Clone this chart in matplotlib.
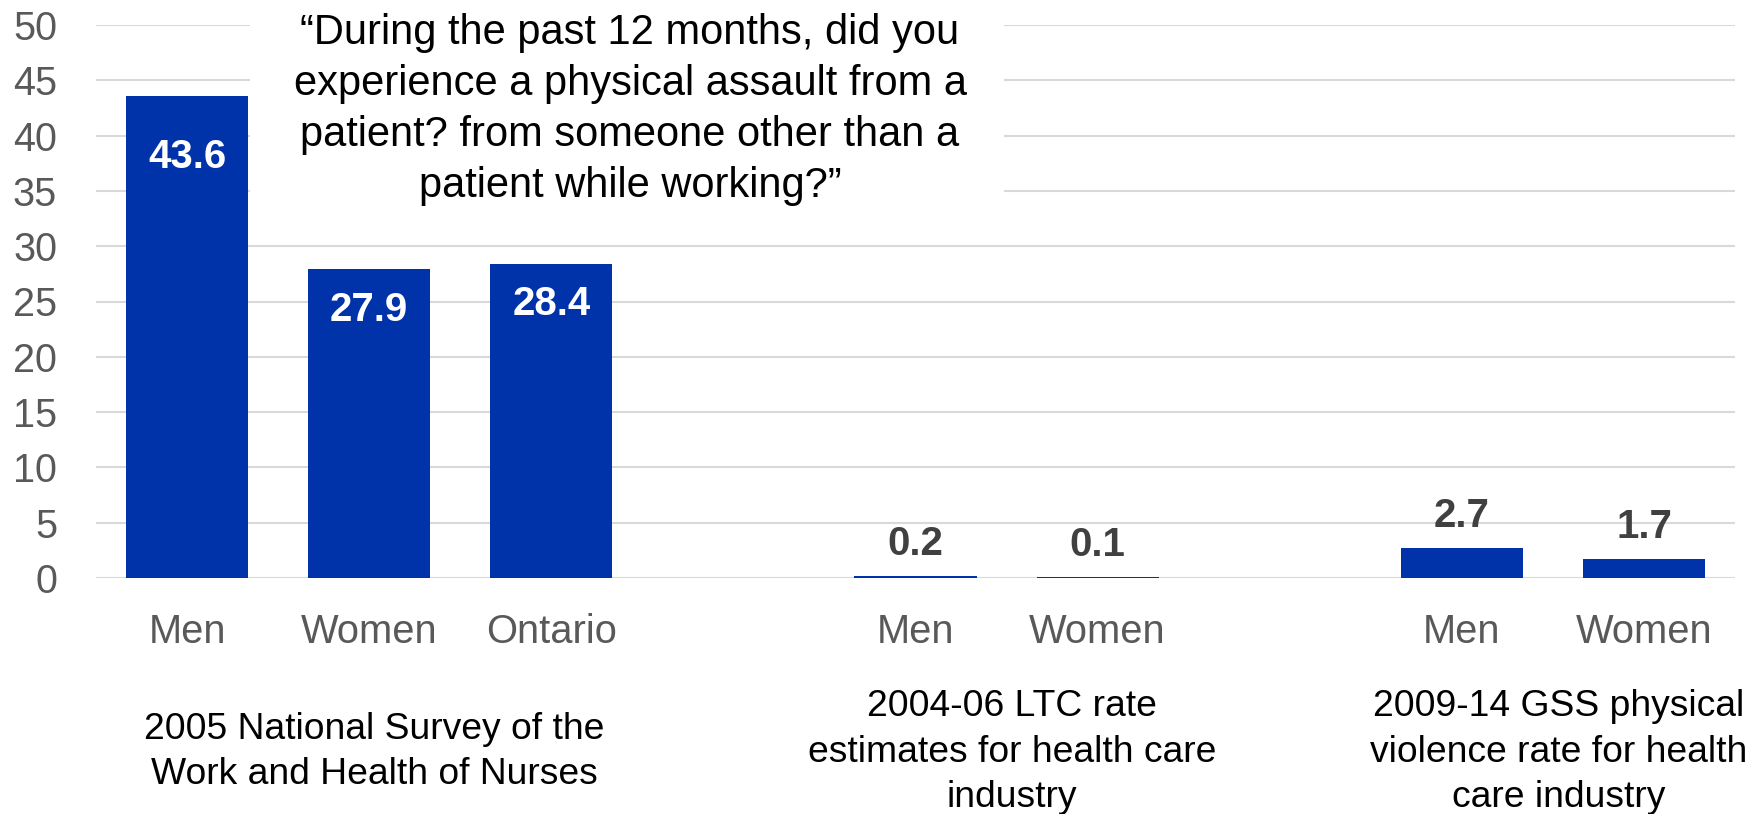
import matplotlib
matplotlib.use("Agg")
import matplotlib.pyplot as plt
import matplotlib.transforms as mtransforms
from matplotlib.patches import Rectangle

# ---------------- data ----------------
group_titles = [
    "2005 National Survey of the\nWork and Health of Nurses",
    "2004-06 LTC rate\nestimates for health care\nindustry",
    "2009-14 GSS physical\nviolence rate for health\ncare industry",
]
group_categories = [
    ["Men", "Women", "Ontario"],
    ["Men", "Women"],
    ["Men", "Women"],
]
group_values = [
    [43.6, 27.9, 28.4],
    [0.2, 0.1],
    [2.7, 1.7],
]
y_ticks = [0, 5, 10, 15, 20, 25, 30, 35, 40, 45, 50]
question = ("\u201cDuring the past 12 months, did you\n"
            "experience a physical assault from a\n"
            "patient? from someone other than a\n"
            "patient while working?\u201d")

# ---------------- style ----------------
plt.rcParams['font.family'] = ['Liberation Sans', 'DejaVu Sans']
BAR = '#0033A9'
GRID = '#D9D9D9'
TICK = '#595959'
OUT_LBL = '#404040'

W, H = 1754, 814
fig = plt.figure(figsize=(W / 100, H / 100), dpi=100)
ax = fig.add_axes([96 / W, (H - 578) / H, (1735 - 96) / W, (578 - 25) / H])

# positions: one blank slot between groups
positions, labels, values, group_centers = [], [], [], []
slot = 0
for cats, vals in zip(group_categories, group_values):
    start = slot
    for c, v in zip(cats, vals):
        positions.append(slot)
        labels.append(c)
        values.append(v)
        slot += 1
    group_centers.append((start + slot - 1) / 2)
    slot += 1

bars = ax.bar(positions, values, width=0.67, color=BAR, zorder=2)

ax.set_xlim(-0.5, 8.5)
ax.set_ylim(0, 50)
ax.set_yticks(y_ticks)
ax.set_xticks(positions)
ax.set_xticklabels(labels)
ax.tick_params(axis='x', length=0, pad=25, labelsize=28.7, labelcolor=TICK)
ax.tick_params(axis='y', length=0, pad=28, labelsize=28.5, labelcolor=TICK)
for s in ax.spines.values():
    s.set_visible(False)
ax.yaxis.grid(True, color=GRID, linewidth=1.5)
ax.set_axisbelow(True)

# data labels
inside_offsets = {0: -41.5}
for i, (b, v) in enumerate(zip(bars, values)):
    x = b.get_x() + b.get_width() / 2
    if v > 10:
        off = inside_offsets.get(i, -26)
        ax.annotate(f"{v:.1f}", (x, v), xytext=(0, off), textcoords='offset points',
                    ha='center', va='center_baseline', color='white',
                    fontsize=29, fontweight='bold', zorder=4)
    else:
        ax.annotate(f"{v:.1f}", (x, v), xytext=(0, 26), textcoords='offset points',
                    ha='center', va='center_baseline', color=OUT_LBL,
                    fontsize=29, fontweight='bold', zorder=4)

# group titles (x in data, y in figure coords)
trans = mtransforms.blended_transform_factory(ax.transData, fig.transFigure)
for gx, title in zip(group_centers, group_titles):
    ax.text(gx + 0.03, (H - 752) / H, title, transform=trans, ha='center', va='center',
            fontsize=26.8, color='black', linespacing=1.38)

# white box behind the question text
ax.add_patch(Rectangle((250 / W, (H - 220) / H), (1004 - 250) / W, 220 / H,
                       transform=fig.transFigure, facecolor='white', edgecolor='none',
                       zorder=1.5, clip_on=False))
fig.text(630 / W, (H - 13) / H, question, ha='center', va='top', fontsize=30,
         color='black', linespacing=1.36, zorder=5)

fig.savefig("out.png", dpi=100, facecolor='white')
